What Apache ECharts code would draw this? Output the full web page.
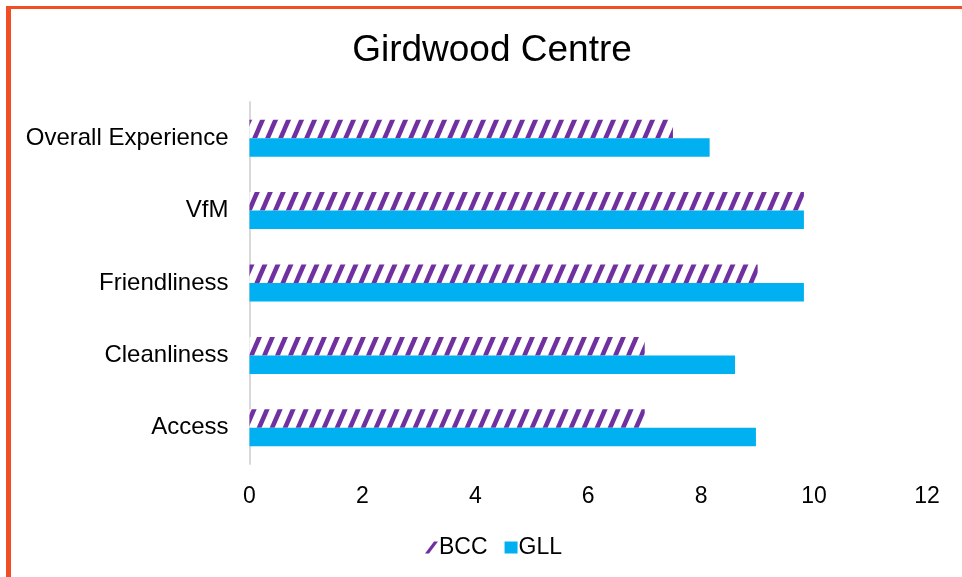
<!DOCTYPE html>
<html>
<head>
<meta charset="utf-8">
<script src="https://cdn.jsdelivr.net/npm/echarts@6/dist/echarts.min.js"></script>
<style>
html,body{margin:0;padding:0;background:#fff;}
#chart{width:962px;height:577px;}
</style>
</head>
<body>
<div id="chart"></div>
<script>
var categories = ['Access', 'Cleanliness', 'Friendliness', 'VfM', 'Overall Experience'];
var bccValues = [7.0, 7.0, 9.0, 9.82, 7.5];
var gllValues = [8.97, 8.6, 9.82, 9.82, 8.15];
var xTicks = [0, 2, 4, 6, 8, 10, 12];
var titleText = 'Girdwood Centre';

function makeHatch() {
  var W = 13, H = 30, t = 5;
  var c = document.createElement('canvas');
  c.width = W; c.height = H;
  var ctx = c.getContext('2d');
  ctx.fillStyle = '#ffffff';
  ctx.fillRect(0, 0, W, H);
  ctx.fillStyle = '#7030A0';
  for (var k = -1; k <= 1; k++) {
    var x0 = k * W;
    ctx.beginPath();
    ctx.moveTo(x0, H);
    ctx.lineTo(x0 + t, H);
    ctx.lineTo(x0 + W + t, 0);
    ctx.lineTo(x0 + W, 0);
    ctx.closePath();
    ctx.fill();
  }
  return c;
}

var chart = echarts.init(document.getElementById('chart'), null, {renderer: 'canvas'});
var font = 'Liberation Sans, Arial, sans-serif';
var option = {
  animation: false,
  backgroundColor: '#ffffff',
  title: {
    text: titleText,
    left: 487,
    top: 27,
    textAlign: 'center',
    textStyle: {fontFamily: font, fontSize: 37, fontWeight: 'normal', color: '#000000'}
  },
  legend: {
    left: 420,
    top: 531,
    itemWidth: 13,
    itemHeight: 12,
    itemGap: 17,
    textStyle: {fontFamily: font, fontSize: 23, color: '#000000', padding: [0, 0, 0, -4]},
    data: [
      {name: 'BCC', icon: 'path://M0,12 L9,0 L13,0 L4,12 Z', itemStyle: {color: '#7030A0'}},
      {name: 'GLL', icon: 'rect', itemStyle: {color: '#00B0F0'}}
    ]
  },
  grid: {left: 249.5, right: 35, top: 102, bottom: 113, containLabel: false},
  xAxis: {
    type: 'value',
    min: xTicks[0],
    max: xTicks[xTicks.length - 1],
    interval: 2,
    axisLine: {show: false},
    axisTick: {show: false},
    splitLine: {show: false},
    axisLabel: {fontFamily: font, fontSize: 23, color: '#000000', margin: 21}
  },
  yAxis: {
    type: 'category',
    data: categories,
    axisLine: {show: true, lineStyle: {color: '#D9D9D9', width: 2}},
    axisTick: {show: false},
    axisLabel: {fontFamily: font, fontSize: 24, color: '#000000', margin: 21, padding: [7, 0, 0, 0]}
  },
  series: [
    {
      name: 'BCC',
      type: 'bar',
      data: bccValues,
      barWidth: 18.5,
      barGap: '0%',
      itemStyle: {color: {image: makeHatch(), repeat: 'repeat'}}
    },
    {
      name: 'GLL',
      type: 'bar',
      data: gllValues,
      barWidth: 18.5,
      barGap: '0%',
      itemStyle: {color: '#00B0F0'}
    }
  ],
  graphic: [
    {type: 'rect', shape: {x: 6, y: 6, width: 5, height: 571}, style: {fill: '#F04E25'}, silent: true},
    {type: 'rect', shape: {x: 6, y: 6, width: 956, height: 3}, style: {fill: '#F04E25'}, silent: true}
  ]
};
chart.setOption(option);
</script>
</body>
</html>
